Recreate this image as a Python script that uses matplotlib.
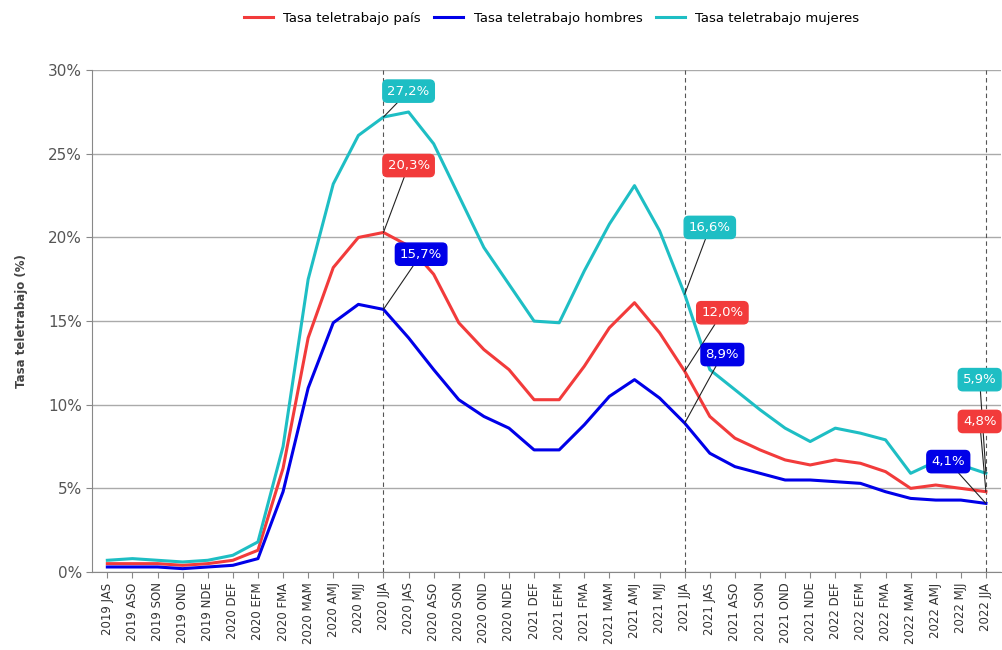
import matplotlib.pyplot as plt
from matplotlib.ticker import FuncFormatter

periods = (
    ["2019 JAS", "2019 ASO", "2019 SON", "2019 OND", "2019 NDE"]
    + ["2020 " + m for m in ["DEF", "EFM", "FMA", "MAM", "AMJ", "MJJ", "JJA", "JAS", "ASO", "SON", "OND", "NDE"]]
    + ["2021 " + m for m in ["DEF", "EFM", "FMA", "MAM", "AMJ", "MJJ", "JJA", "JAS", "ASO", "SON", "OND", "NDE"]]
    + ["2022 " + m for m in ["DEF", "EFM", "FMA", "MAM", "AMJ", "MJJ", "JJA"]]
)

pais = [0.5, 0.5, 0.5, 0.4, 0.5, 0.7, 1.3, 6.2, 14.0, 18.2, 20.0, 20.3,
        19.5, 17.8, 14.9, 13.3, 12.1, 10.3, 10.3, 12.3, 14.6, 16.1, 14.3, 12.0,
        9.3, 8.0, 7.3, 6.7, 6.4, 6.7, 6.5, 6.0, 5.0, 5.2, 5.0, 4.8]
hombres = [0.3, 0.3, 0.3, 0.2, 0.3, 0.4, 0.8, 4.8, 11.0, 14.9, 16.0, 15.7,
           14.0, 12.1, 10.3, 9.3, 8.6, 7.3, 7.3, 8.8, 10.5, 11.5, 10.4, 8.9,
           7.1, 6.3, 5.9, 5.5, 5.5, 5.4, 5.3, 4.8, 4.4, 4.3, 4.3, 4.1]
mujeres = [0.7, 0.8, 0.7, 0.6, 0.7, 1.0, 1.8, 7.5, 17.5, 23.2, 26.1, 27.2,
           27.5, 25.6, 22.5, 19.4, 17.2, 15.0, 14.9, 18.0, 20.8, 23.1, 20.4, 16.6,
           12.1, 10.9, 9.7, 8.6, 7.8, 8.6, 8.3, 7.9, 5.9, 6.6, 6.4, 5.9]

highlight = ["2020 JJA", "2021 JJA", "2022 JJA"]

RED = "#F23B3B"
BLUE = "#0000E8"
CYAN = "#1EBEC4"

fig = plt.figure(figsize=(10.03, 6.5), dpi=100)
ax = fig.add_axes([0.092, 0.12, 0.906, 0.772])

x = list(range(len(periods)))
ax.plot(x, pais, color=RED, lw=2.2, label="Tasa teletrabajo país", zorder=3)
ax.plot(x, hombres, color=BLUE, lw=2.2, label="Tasa teletrabajo hombres", zorder=3)
ax.plot(x, mujeres, color=CYAN, lw=2.2, label="Tasa teletrabajo mujeres", zorder=3)

for h in highlight:
    ax.axvline(periods.index(h), color="#555555", ls=(0, (4, 3)), lw=0.8, zorder=2)

# label boxes: (series, colour, offset in x, box y)
label_pos = {
    "2020 JJA": [(mujeres, CYAN, 1.0, 28.75), (pais, RED, 1.0, 24.3), (hombres, BLUE, 1.5, 19.0)],
    "2021 JJA": [(mujeres, CYAN, 1.0, 20.6), (pais, RED, 1.5, 15.5), (hombres, BLUE, 1.5, 13.0)],
    "2022 JJA": [(mujeres, CYAN, -0.25, 11.5), (pais, RED, -0.25, 9.0), (hombres, BLUE, -1.5, 6.6)],
}
for h, items in label_pos.items():
    i = periods.index(h)
    for series, col, dx, by in items:
        v = series[i]
        ax.annotate(f"{v:.1f}%".replace(".", ","), xy=(i, v), xytext=(i + dx, by),
                    ha="center", va="center", color="white", fontsize=9.5, zorder=5,
                    bbox=dict(boxstyle="round,pad=0.35", fc=col, ec=col),
                    arrowprops=dict(arrowstyle="-", color="#222222", lw=0.8, shrinkA=0, shrinkB=0))

ax.set_xlim(-0.6, 35.6)
ax.set_ylim(0, 30)
ax.set_yticks(range(0, 31, 5))
ax.yaxis.set_major_formatter(FuncFormatter(lambda v, p: f"{v:.0f}%"))
ax.set_xticks(x)
ax.set_xticklabels(periods, rotation=90, fontsize=8.5, color="#333333")
ax.tick_params(axis="y", labelsize=11, colors="#555555", length=4, color="#888888")
ax.tick_params(axis="x", length=4, color="#888888")
ax.set_ylabel("Tasa teletrabajo (%)", fontsize=8.5, fontweight="bold", color="#444444", labelpad=14)
ax.grid(axis="y", color="#AAAAAA", lw=1.0, zorder=1)
ax.set_axisbelow(True)
for s in ["top", "right"]:
    ax.spines[s].set_visible(False)
for s in ["left", "bottom"]:
    ax.spines[s].set_color("#888888")

fig.legend(loc="upper center", bbox_to_anchor=(0.55, 1.0), ncol=3, frameon=False,
           fontsize=9.5, handlelength=2.2, columnspacing=1.0)

fig.savefig("out.png", dpi=100)
